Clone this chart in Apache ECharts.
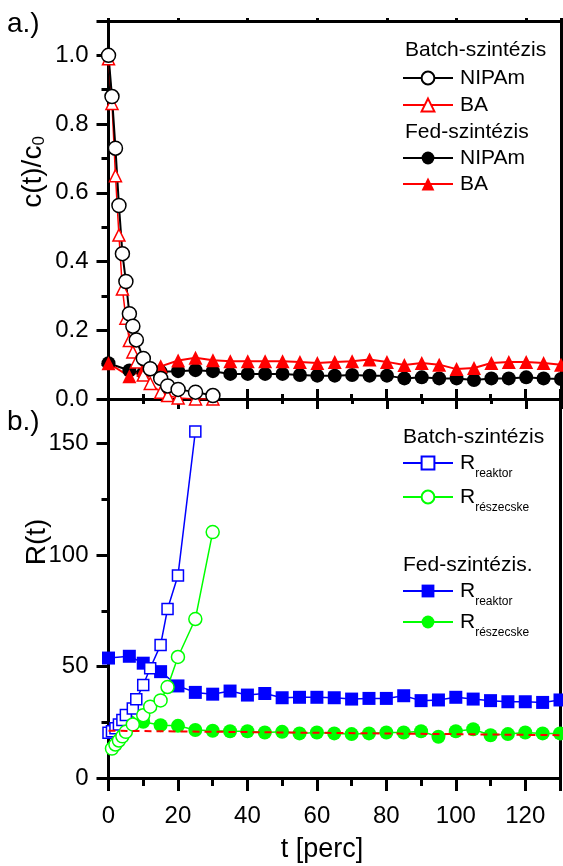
<!DOCTYPE html>
<html>
<head>
<meta charset="utf-8">
<script src="https://cdn.jsdelivr.net/npm/echarts@6/dist/echarts.min.js"></script>
<style>
  html, body { margin: 0; padding: 0; background: #fff; }
  #chart { width: 563px; height: 866px; }
</style>
</head>
<body>
<div id="chart"></div>
<script>
const FONT = '"Liberation Sans", Arial, Helvetica, sans-serif';

// ---- panel a.) relative concentration c(t)/c0 ----
const tBatch = [0, 1, 2, 3, 4, 5, 6, 7, 8, 10, 12, 15, 17, 20, 25, 30];
const batchNIPAm = [1.0, 0.88, 0.73, 0.563, 0.423, 0.342, 0.248, 0.212, 0.172, 0.118, 0.088, 0.06, 0.038, 0.028, 0.02, 0.01];
const batchBA = [0.99, 0.86, 0.65, 0.477, 0.32, 0.235, 0.17, 0.137, 0.108, 0.07, 0.045, 0.02, 0.01, 0.003, 0.0, 0.0];

const tFed = [0, 6, 10, 15, 20, 25, 30, 35, 40, 45, 50, 55, 60, 65, 70, 75, 80, 85, 90, 95, 100, 105, 110, 115, 120, 125, 130];
const fedNIPAm = [0.104, 0.083, 0.076, 0.079, 0.081, 0.084, 0.081, 0.073, 0.073, 0.073, 0.073, 0.07, 0.068, 0.068, 0.07, 0.068, 0.068, 0.06, 0.063, 0.06, 0.06, 0.055, 0.06, 0.06, 0.063, 0.06, 0.058];
const fedBA = [0.104, 0.066, 0.085, 0.095, 0.112, 0.12, 0.113, 0.11, 0.11, 0.11, 0.11, 0.108, 0.105, 0.108, 0.11, 0.115, 0.108, 0.099, 0.105, 0.1, 0.087, 0.09, 0.105, 0.108, 0.108, 0.105, 0.1];

// ---- panel b.) R(t) ----
const tBatchReaktor = [0, 1, 2, 3, 4, 5, 7, 8, 10, 12, 15, 17, 20, 25];
const batchReaktor = [20.3, 21, 22.3, 24, 26, 28.3, 31.2, 35.3, 41.7, 49.2, 59.7, 75.8, 90.8, 155.4];
const tBatchReszecske = [1, 2, 3, 4, 5, 7, 10, 12, 15, 17, 20, 25, 30];
const batchReszecske = [13.2, 15, 16.8, 18.7, 20.7, 24, 28.2, 32, 34.8, 40.8, 54.3, 71.3, 110.3];

const fedReaktor = [53.8, 54.6, 51.5, 47.7, 41.3, 38.4, 37.6, 39, 37.2, 37.9, 36, 36.2, 36.2, 36, 35.4, 35.7, 35.7, 36.9, 34.7, 35, 36.2, 35.4, 34.7, 34.2, 34.2, 33.9, 35];
const tFedReszecske = [6, 10, 15, 20, 25, 30, 35, 40, 45, 50, 55, 60, 65, 70, 75, 80, 85, 90, 95, 100, 105, 110, 115, 120, 125, 130];
const fedReszecske = [25.2, 25.2, 23.7, 23.4, 21.5, 21.2, 21, 21, 20.4, 20.7, 20, 20.4, 20, 19.7, 20, 20.4, 20.4, 21, 18.5, 21, 21.9, 19.2, 19.7, 20.4, 20, 20];

// linear trend through the fed-batch particle values
const tTrend = [0, 130];
const trendReszecske = [21.2, 19.2];

// axis ranges: [min, max, major interval]
const tRange = [0, 130, 20];
const cRange = [0, 1.1, 0.2];
const rRange = [0, 170, 50];

const pairs = (xs, ys) => xs.map((x, i) => [x, ys[i]]);

const BLACK = '#000000', RED = '#ff0000', BLUE = '#0000ff', GREEN = '#00ff00';

const GRID_LEFT = 108.5, GRID_RIGHT = 2;
const grids = [
  { left: GRID_LEFT, right: GRID_RIGHT, top: 21, height: 378 },
  { left: GRID_LEFT, right: GRID_RIGHT, top: 399, height: 379 }
];

const axisLineStyle = { color: BLACK, width: 3 };

function xAx(gridIndex, position, opts) {
  return Object.assign({
    type: 'value', gridIndex, position,
    min: tRange[0], max: tRange[1], interval: tRange[2],
    axisLine: { show: true, onZero: false, lineStyle: axisLineStyle },
    axisTick: { show: false },
    minorTick: { show: false },
    splitLine: { show: false },
    axisLabel: { show: false }
  }, opts);
}
function yAx(gridIndex, position, range, opts) {
  return Object.assign({
    type: 'value', gridIndex, position,
    min: range[0], max: range[1], interval: range[2],
    axisLine: { show: true, onZero: false, lineStyle: axisLineStyle },
    axisTick: { show: false },
    minorTick: { show: false },
    splitLine: { show: false },
    axisLabel: { show: false }
  }, opts);
}
const tickStyle = (len) => ({ show: true, length: len, lineStyle: { color: BLACK, width: 3 } });
const minorStyle = (len) => ({ show: true, splitNumber: 2, length: len, lineStyle: { color: BLACK, width: 3 } });
const labelStyle = (margin, fmt) => ({
  show: true, margin, fontSize: 24, color: BLACK, fontFamily: FONT, formatter: fmt
});

const xAxes = [
  xAx(0, 'bottom', { axisTick: tickStyle(10), minorTick: minorStyle(5) }),
  xAx(0, 'top', { axisTick: tickStyle(3) }),
  xAx(1, 'bottom', {
    axisTick: tickStyle(13), minorTick: minorStyle(8),
    axisLabel: labelStyle(26, v => (v > 125 ? '' : String(v)))
  }),
  xAx(1, 'top', { axisTick: tickStyle(10), minorTick: minorStyle(5) })
];
const yAxes = [
  yAx(0, 'left', cRange, {
    axisTick: tickStyle(12), minorTick: minorStyle(7),
    axisLabel: labelStyle(20, v => (v > 1.05 ? '' : v.toFixed(1)))
  }),
  yAx(0, 'right', cRange),
  yAx(1, 'left', rRange, {
    axisTick: tickStyle(12), minorTick: minorStyle(7),
    axisLabel: labelStyle(20, v => (v > 160 ? '' : String(v)))
  }),
  yAx(1, 'right', rRange)
];

function lineSeries(name, panel, xs, ys, symbol, size, color, open, lineWidth) {
  return {
    type: 'line', name,
    xAxisIndex: panel === 0 ? 0 : 2,
    yAxisIndex: panel === 0 ? 0 : 2,
    data: pairs(xs, ys),
    symbol, symbolSize: size,
    showAllSymbol: true,
    lineStyle: { color, width: lineWidth },
    itemStyle: open
      ? { color: '#ffffff', borderColor: color, borderWidth: 1.5 }
      : { color, borderColor: color, borderWidth: 0 },
    emphasis: { disabled: true },
    animation: false
  };
}

const series = [
  lineSeries('Fed NIPAm', 0, tFed, fedNIPAm, 'circle', 14, BLACK, false, 2),
  lineSeries('Fed BA', 0, tFed, fedBA, 'triangle', 14, RED, false, 2),
  lineSeries('Batch BA', 0, tBatch, batchBA, 'triangle', 12, RED, true, 1.5),
  lineSeries('Batch NIPAm', 0, tBatch, batchNIPAm, 'circle', 14, BLACK, true, 2),

  lineSeries('Fed Rreaktor', 1, tFed, fedReaktor, 'rect', 13, BLUE, false, 1.5),
  lineSeries('Fed Rreszecske', 1, tFedReszecske, fedReszecske, 'circle', 14, GREEN, false, 1.5),
  lineSeries('Batch Rreaktor', 1, tBatchReaktor, batchReaktor, 'rect', 11, BLUE, true, 1.5),
  lineSeries('Batch Rreszecske', 1, tBatchReszecske, batchReszecske, 'circle', 13, GREEN, true, 1.5),
  {
    type: 'line', name: 'trend', xAxisIndex: 2, yAxisIndex: 2,
    data: pairs(tTrend, trendReszecske), symbol: 'none',
    lineStyle: { color: RED, width: 2, type: [7, 5] },
    emphasis: { disabled: true }, animation: false, z: 5
  }
];

const legendLabels = {
  'Batch NIPAm': 'NIPAm', 'Batch BA': 'BA', 'Fed NIPAm': 'NIPAm', 'Fed BA': 'BA',
  'Batch Rreaktor': '{R|R}{s|reaktor}', 'Batch Rreszecske': '{R|R}{s|részecske}',
  'Fed Rreaktor': '{R|R}{s|reaktor}', 'Fed Rreszecske': '{R|R}{s|részecske}'
};
// subscript token is pushed down by its top padding
const subRich = {
  R: { fontSize: 21, lineHeight: 34, fontFamily: FONT, color: BLACK },
  s: { fontSize: 12, lineHeight: 12, fontFamily: FONT, color: BLACK, padding: [22, 0, 0, 0] }
};
function legendItem(name, centerY, tall) {
  const h = tall ? 34 : 22;
  return {
    show: true, orient: 'vertical', left: 402, top: centerY - h / 2, padding: 0,
    itemWidth: 50, itemHeight: 16, selectedMode: false,
    data: [name],
    formatter: n => legendLabels[n],
    textStyle: {
      fontSize: 21, lineHeight: 22, fontFamily: FONT, color: BLACK,
      padding: [0, 0, 0, 2], rich: subRich
    }
  };
}
const legends = [
  legendItem('Batch NIPAm', 78, false),
  legendItem('Batch BA', 105, false),
  legendItem('Fed NIPAm', 158, false),
  legendItem('Fed BA', 184, false),
  legendItem('Batch Rreaktor', 463, true),
  legendItem('Batch Rreszecske', 497, true),
  legendItem('Fed Rreaktor', 591, true),
  legendItem('Fed Rreszecske', 622, true)
];

const text = (x, y, str, size, extra) => ({
  type: 'text', x, y, silent: true, z: 100,
  style: Object.assign({
    text: str, fontSize: size, fontFamily: FONT, fill: BLACK,
    align: 'left', verticalAlign: 'middle'
  }, extra || {})
});

const graphic = [
  text(405, 50, 'Batch-szintézis', 21),
  text(405, 132, 'Fed-szintézis', 21),
  text(403, 437, 'Batch-szintézis', 21),
  text(403, 565, 'Fed-szintézis.', 21),
  text(7, 24, 'a.)', 28),
  text(7, 422, 'b.)', 28),
  Object.assign(text(33, 172, '{a|c(t)/c}{b|0}', 28, {
    align: 'center',
    rich: {
      a: { fontSize: 28, lineHeight: 30, fontFamily: FONT, fill: BLACK },
      b: { fontSize: 17, lineHeight: 17, fontFamily: FONT, fill: BLACK, padding: [13, 0, 0, 0] }
    }
  }), { rotation: Math.PI / 2 }),
  Object.assign(text(37, 542, 'R(t)', 28, { align: 'center' }), { rotation: Math.PI / 2 }),
  text(322, 850, 't [perc]', 27, { align: 'center' })
];

const chart = echarts.init(document.getElementById('chart'), null, { renderer: 'canvas' });
chart.setOption({
  animation: false,
  backgroundColor: '#ffffff',
  grid: grids,
  xAxis: xAxes,
  yAxis: yAxes,
  legend: legends,
  series,
  graphic
});
</script>
</body>
</html>
